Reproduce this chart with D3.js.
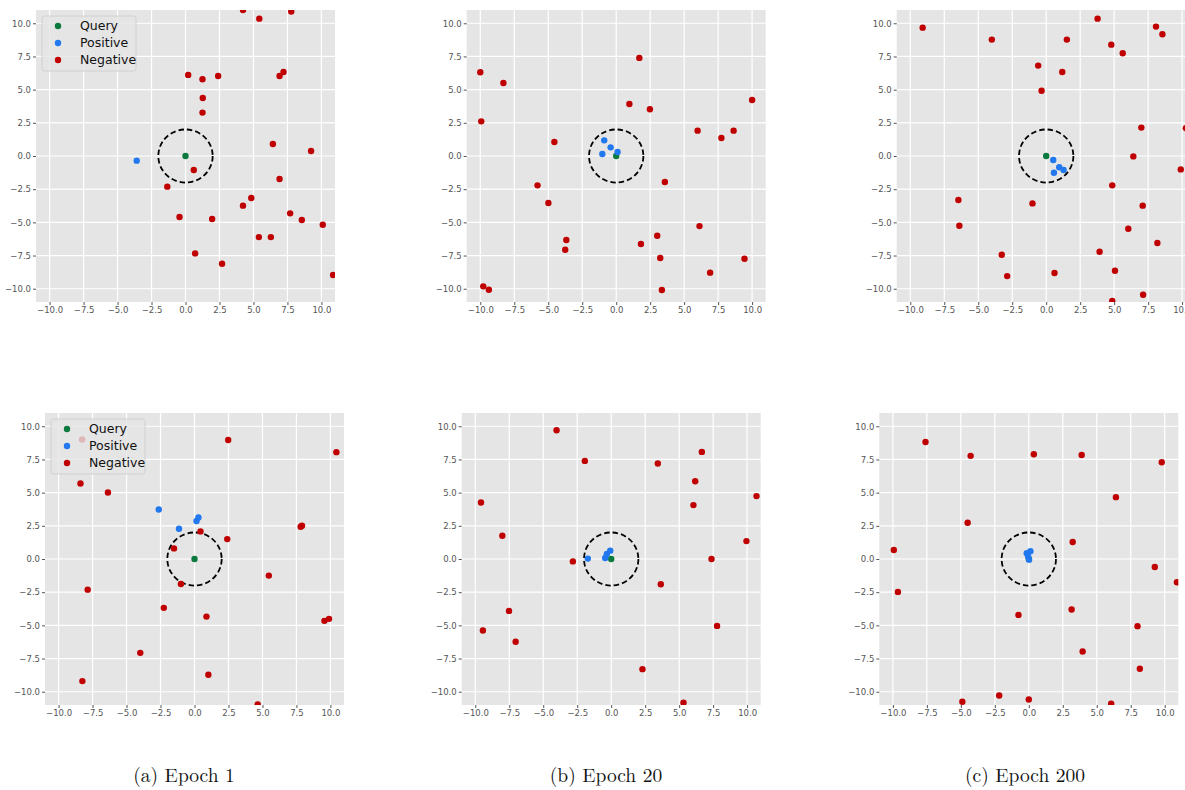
<!DOCTYPE html>
<html>
<head>
<meta charset="utf-8">
<script src="https://cdn.jsdelivr.net/npm/d3@7"></script>
<style>
  body { margin: 0; background: #fff; }
  svg { display: block; }
  .tick text { font-family: "DejaVu Sans", sans-serif; font-size: 8.5px; fill: #555; }
  .caption { font-family: "Latin Modern Roman", "DejaVu Serif", "Liberation Serif", serif; font-size: 19.5px; fill: #111; }
  .legend text { font-family: "DejaVu Sans", sans-serif; font-size: 12.5px; fill: #111; }
</style>
</head>
<body>
<svg width="1185" height="790"></svg>
<script>
// Delcare svg
const svg = d3.select('svg');
const width = +svg.attr('width');
const height = +svg.attr('height');

// colours
const queryColor = '#0b7a3e';
const posColor = '#2278ee';
const negColor = '#c00000';
const bgColor = '#e5e5e5';

// ====== data ======
const ticks = [-10, -7.5, -5, -2.5, 0, 2.5, 5, 7.5, 10];
const captions = ['(a) Epoch 1', '(b) Epoch 20', '(c) Epoch 200'];
const query = [[0, 0]];

// top row
const pos1 = [[-3.59, -0.35]];
const neg1 = [[4.23, 11.0], [5.43, 10.35], [7.78, 10.88], [0.20, 6.11], [1.25, 5.78], [2.40, 6.03],
  [6.92, 6.03], [7.21, 6.33], [1.27, 4.37], [1.25, 3.27], [6.43, 0.90], [9.24, 0.38], [0.61, -1.06],
  [-1.34, -2.31], [6.92, -1.73], [4.84, -3.17], [4.23, -3.74], [7.70, -4.32], [-0.44, -4.60],
  [1.96, -4.75], [8.56, -4.82], [10.10, -5.18], [5.40, -6.11], [6.28, -6.11], [0.71, -7.34],
  [2.69, -8.12], [10.86, -8.97]];

const pos2 = [[-0.88, 1.18], [-0.41, 0.65], [-1.02, 0.15], [0.10, 0.30]];
const neg2 = [[-10.0, 6.31], [-8.30, 5.50], [-9.93, 2.61], [1.70, 7.39], [0.97, 3.92], [2.48, 3.52],
  [10.0, 4.22], [-4.55, 1.06], [5.99, 1.91], [7.74, 1.36], [8.64, 1.91], [3.58, -1.96], [-5.79, -2.21],
  [-4.99, -3.54], [-3.67, -6.33], [-3.75, -7.06], [1.82, -6.63], [3.02, -6.01], [3.24, -7.69],
  [6.13, -5.28], [6.91, -8.79], [9.44, -7.74], [-9.78, -9.82], [-9.37, -10.08], [3.36, -10.10]];

const pos3 = [[0.52, -0.30], [0.96, -0.85], [1.28, -1.06], [0.57, -1.26]];
const neg3 = [[-9.09, 9.67], [-4.00, 8.77], [1.52, 8.77], [3.78, 10.35], [4.79, 8.39], [5.63, 7.74],
  [8.08, 9.75], [8.55, 9.17], [-0.59, 6.81], [1.18, 6.33], [-0.34, 4.92], [7.00, 2.14], [10.27, 2.09],
  [6.41, -0.03], [9.90, -1.01], [4.86, -2.21], [7.10, -3.74], [-1.01, -3.57], [-6.46, -3.32],
  [-6.39, -5.25], [6.04, -5.48], [8.18, -6.56], [3.93, -7.21], [-3.27, -7.44], [-2.87, -9.05],
  [0.61, -8.82], [5.06, -8.64], [7.13, -10.45], [4.86, -10.93]];

// bottom row
const pos4 = [[-2.63, 3.73], [-1.14, 2.28], [0.15, 2.86], [0.29, 3.13]];
const neg4 = [[-8.27, 9.00], [2.48, 8.97], [10.44, 8.05], [-8.39, 5.69], [-6.37, 5.01], [0.44, 2.08],
  [2.41, 1.50], [7.81, 2.43], [7.91, 2.51], [-1.51, 0.80], [-1.00, -1.88], [5.47, -1.25],
  [-7.86, -2.31], [-2.26, -3.68], [0.88, -4.34], [9.56, -4.66], [9.90, -4.51], [-3.99, -7.07],
  [-8.25, -9.20], [1.02, -8.72], [4.65, -10.95]];

const pos5 = [[-1.72, 0.03], [-0.44, 0.08], [-0.32, 0.38], [-0.07, 0.63]];
const neg5 = [[-4.02, 9.70], [-1.94, 7.39], [3.43, 7.19], [6.67, 8.07], [6.18, 5.86], [6.05, 4.06],
  [10.69, 4.74], [-9.58, 4.26], [-8.01, 1.75], [-2.82, -0.18], [7.38, 0.0], [9.95, 1.35],
  [3.65, -1.90], [-7.52, -3.91], [-9.44, -5.39], [-7.03, -6.24], [7.79, -5.04], [2.30, -8.30],
  [5.32, -10.83]];

const pos6 = [[-0.15, 0.43], [0.12, 0.58], [-0.05, 0.18], [0.02, -0.05]];
const neg6 = [[-7.60, 8.82], [-4.28, 7.77], [0.37, 7.89], [3.89, 7.84], [9.78, 7.29], [6.41, 4.66],
  [-4.50, 2.73], [3.23, 1.28], [-9.93, 0.68], [9.27, -0.60], [10.90, -1.75], [-9.63, -2.48],
  [-0.76, -4.21], [3.15, -3.81], [8.00, -5.06], [3.96, -6.97], [8.17, -8.27], [-2.18, -10.28],
  [-4.89, -10.75], [0.00, -10.58], [6.06, -10.90]];

// ====== panel layout ======
const plotW = 299, plotH = 292;
const panels = [
  { left: 36,    top: 10,  pos: pos1, neg: neg1, legend: { x: 42, y: 16 } },
  { left: 466.7, top: 10,  pos: pos2, neg: neg2 },
  { left: 896.7, top: 10,  pos: pos3, neg: neg3 },
  { left: 45,    top: 413, pos: pos4, neg: neg4, legend: { x: 51, y: 419 } },
  { left: 461.7, top: 413, pos: pos5, neg: neg5 },
  { left: 879.3, top: 413, pos: pos6, neg: neg6 }
];

const fmt = d => d3.format('.1f')(d).replace('-', '\u2212');

panels.forEach((p, i) => {
  const x = d3.scaleLinear().domain([-11, 11]).range([0, plotW]);
  const y = d3.scaleLinear().domain([-11, 11]).range([plotH, 0]);

  const g = svg.append('g').attr('transform', `translate(${p.left},${p.top})`);

  g.append('rect').attr('width', plotW).attr('height', plotH).attr('fill', bgColor);

  // grid lines
  g.append('g').selectAll('line').data(ticks).enter().append('line')
    .attr('x1', d => x(d)).attr('x2', d => x(d)).attr('y1', 0).attr('y2', plotH)
    .attr('stroke', '#fff').attr('stroke-width', 1.2);
  g.append('g').selectAll('line').data(ticks).enter().append('line')
    .attr('y1', d => y(d)).attr('y2', d => y(d)).attr('x1', 0).attr('x2', plotW)
    .attr('stroke', '#fff').attr('stroke-width', 1.2);

  // axes
  const xAxis = g.append('g').attr('transform', `translate(0,${plotH})`)
    .call(d3.axisBottom(x).tickValues(ticks).tickFormat(fmt).tickSize(3).tickPadding(2));
  const yAxis = g.append('g')
    .call(d3.axisLeft(y).tickValues(ticks).tickFormat(fmt).tickSize(3).tickPadding(2));
  [xAxis, yAxis].forEach(a => {
    a.select('.domain').remove();
    a.selectAll('.tick line').attr('stroke', '#555');
  });

  // clipped marks
  const clipId = 'clip' + i;
  g.append('clipPath').attr('id', clipId)
    .append('rect').attr('width', plotW).attr('height', plotH);
  const marks = g.append('g').attr('clip-path', `url(#${clipId})`);

  marks.append('ellipse')
    .attr('cx', x(0)).attr('cy', y(0))
    .attr('rx', x(2) - x(0)).attr('ry', y(0) - y(2))
    .attr('fill', 'none').attr('stroke', '#000')
    .attr('stroke-width', 1.8).attr('stroke-dasharray', '5.5,3');

  const dots = (data, color) => marks.append('g').selectAll('circle').data(data)
    .enter().append('circle')
      .attr('cx', d => x(d[0])).attr('cy', d => y(d[1]))
      .attr('r', 3.2).attr('fill', color);

  dots(query, queryColor);
  dots(p.pos, posColor);
  dots(p.neg, negColor);

  // legend
  if (p.legend) {
    const lg = svg.append('g').attr('class', 'legend')
      .attr('transform', `translate(${p.legend.x},${p.legend.y})`);
    lg.append('rect').attr('width', 94).attr('height', 55).attr('rx', 2.5)
      .attr('fill', 'rgba(229,229,229,0.8)').attr('stroke', '#cccccc').attr('stroke-width', 0.8);
    const items = [['Query', queryColor], ['Positive', posColor], ['Negative', negColor]];
    items.forEach((it, k) => {
      lg.append('circle').attr('cx', 16).attr('cy', 10 + k * 17).attr('r', 3.2).attr('fill', it[1]);
      lg.append('text').attr('x', 38).attr('y', 10 + k * 17).attr('dy', '0.35em').text(it[0]);
    });
  }
});

// captions
const capX = [184, 606, 1025];
svg.selectAll('text.caption').data(captions).enter().append('text')
  .attr('class', 'caption')
  .attr('x', (d, i) => capX[i]).attr('y', 782)
  .attr('text-anchor', 'middle')
  .text(d => d);
</script>
</body>
</html>
